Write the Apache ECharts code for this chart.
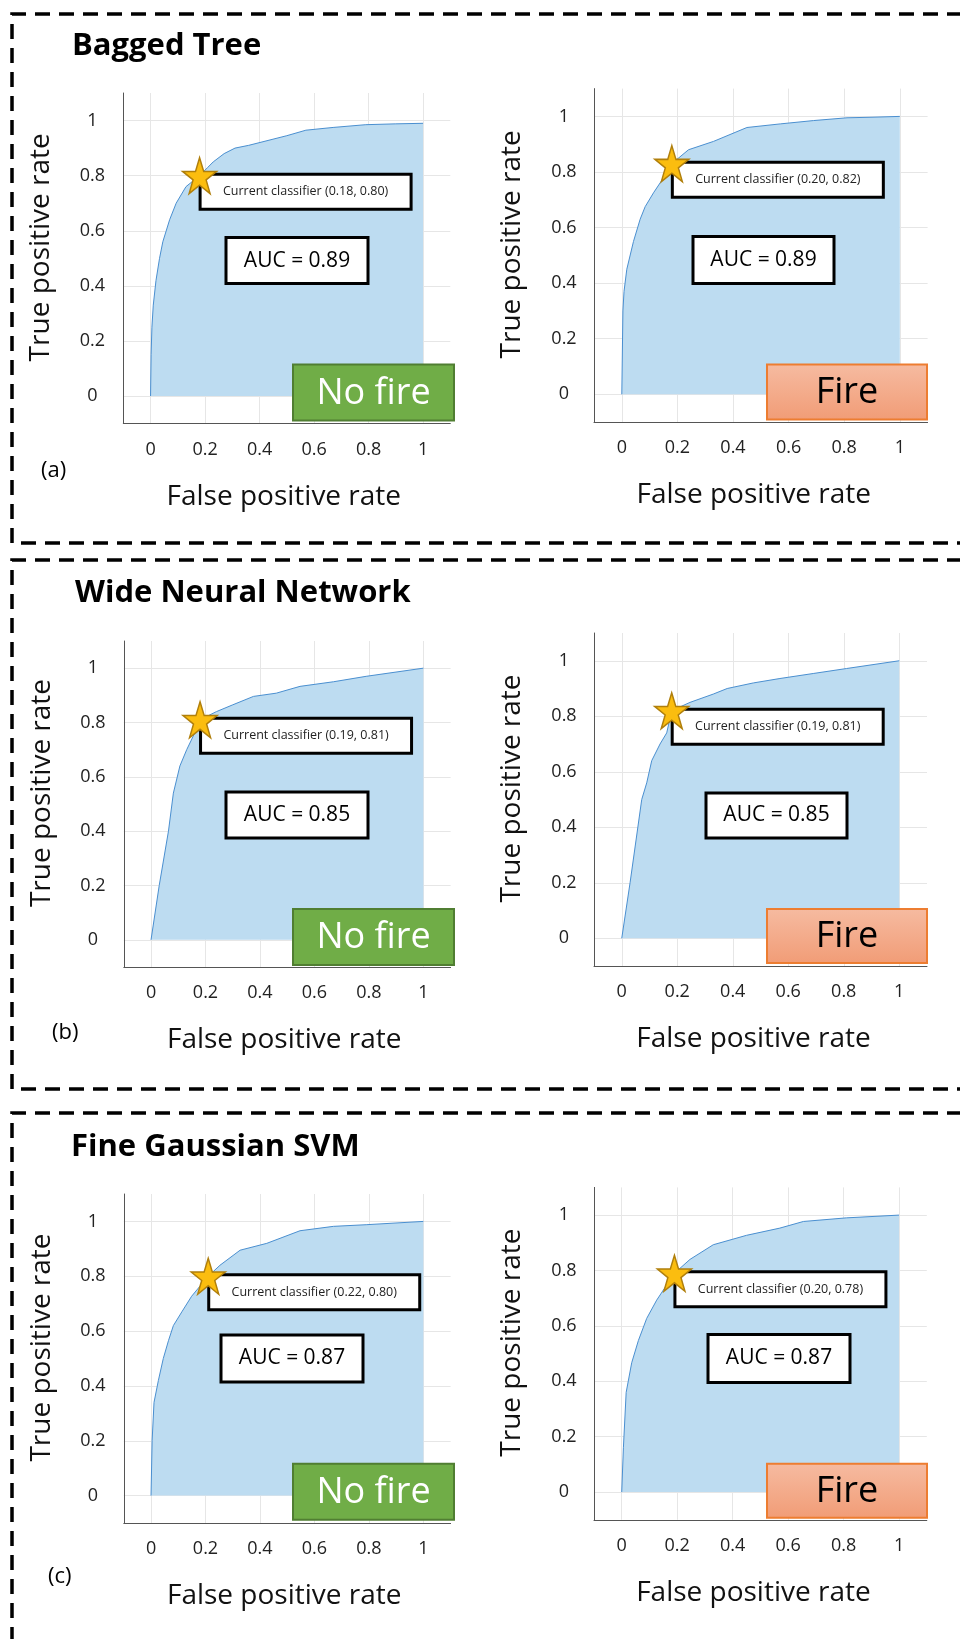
<!DOCTYPE html>
<html>
<head>
<meta charset="utf-8">
<script src="https://cdn.jsdelivr.net/npm/echarts@6/dist/echarts.min.js"></script>
<style>
html,body{margin:0;padding:0;background:#ffffff;}
#chart{width:960px;height:1639px;}
</style>
</head>
<body>
<div id="chart"></div>
<script>
// ---------------- DATA ----------------
const modelNames = ['Bagged Tree', 'Wide Neural Network', 'Fine Gaussian SVM'];
const panelTags = ['(a)', '(b)', '(c)'];
const classNames = ['No fire', 'Fire'];
const tickValues = [0, 0.2, 0.4, 0.6, 0.8, 1];
const tickLabels = ['0', '0.2', '0.4', '0.6', '0.8', '1'];
const xAxisTitle = 'False positive rate';
const yAxisTitle = 'True positive rate';

// Bagged Tree - No fire
const fprBaggedNoFire = [0, 0.002, 0.005, 0.01, 0.02, 0.033, 0.045, 0.07, 0.094, 0.13, 0.155, 0.18, 0.21, 0.23, 0.27, 0.31, 0.36, 0.42, 0.50, 0.57, 0.67, 0.79, 0.90, 1.0];
const tprBaggedNoFire = [0, 0.15, 0.25, 0.33, 0.42, 0.50, 0.56, 0.64, 0.70, 0.76, 0.78, 0.80, 0.83, 0.85, 0.88, 0.90, 0.91, 0.925, 0.945, 0.965, 0.975, 0.985, 0.988, 0.99];
// Bagged Tree - Fire
const fprBaggedFire = [0, 0.004, 0.008, 0.018, 0.042, 0.066, 0.084, 0.114, 0.144, 0.18, 0.24, 0.33, 0.45, 0.57, 0.69, 0.81, 0.90, 1.0];
const tprBaggedFire = [0, 0.30, 0.37, 0.45, 0.55, 0.63, 0.675, 0.725, 0.77, 0.83, 0.88, 0.91, 0.96, 0.973, 0.985, 0.995, 0.997, 1.0];
// Wide Neural Network - No fire
const fprWideNoFire = [0, 0.03, 0.064, 0.082, 0.106, 0.131, 0.155, 0.18, 0.24, 0.30, 0.376, 0.46, 0.547, 0.67, 0.79, 1.0];
const tprWideNoFire = [0, 0.20, 0.40, 0.54, 0.64, 0.70, 0.75, 0.81, 0.84, 0.865, 0.896, 0.908, 0.933, 0.95, 0.97, 1.0];
// Wide Neural Network - Fire
const fprWideFire = [0, 0.03, 0.072, 0.09, 0.108, 0.138, 0.162, 0.18, 0.246, 0.33, 0.38, 0.474, 0.57, 0.69, 0.81, 1.0];
const tprWideFire = [0, 0.20, 0.50, 0.56, 0.64, 0.70, 0.74, 0.82, 0.85, 0.88, 0.90, 0.92, 0.936, 0.954, 0.972, 1.0];
// Fine Gaussian SVM - No fire
const fprSvmNoFire = [0, 0.004, 0.011, 0.027, 0.045, 0.064, 0.082, 0.113, 0.149, 0.21, 0.253, 0.327, 0.425, 0.547, 0.67, 0.79, 1.0];
const tprSvmNoFire = [0, 0.20, 0.34, 0.42, 0.50, 0.565, 0.62, 0.67, 0.727, 0.80, 0.84, 0.895, 0.92, 0.966, 0.982, 0.988, 1.0];
// Fine Gaussian SVM - Fire
const fprSvmFire = [0, 0.006, 0.016, 0.036, 0.06, 0.09, 0.126, 0.19, 0.246, 0.33, 0.45, 0.57, 0.655, 0.81, 1.0];
const tprSvmFire = [0, 0.16, 0.36, 0.467, 0.547, 0.627, 0.693, 0.79, 0.84, 0.893, 0.927, 0.953, 0.977, 0.99, 1.0];

// Current classifier operating points (as labelled) and where the star is drawn
const classifierLabelPoints = [[0.18, 0.80], [0.20, 0.82], [0.19, 0.81], [0.19, 0.81], [0.22, 0.80], [0.20, 0.78]];
const starPoints = [[0.18, 0.80], [0.18, 0.83], [0.18, 0.81], [0.18, 0.82], [0.21, 0.80], [0.19, 0.79]];
const aucValues = [0.89, 0.89, 0.85, 0.85, 0.87, 0.87];

const fprSets = [fprBaggedNoFire, fprBaggedFire, fprWideNoFire, fprWideFire, fprSvmNoFire, fprSvmFire];
const tprSets = [tprBaggedNoFire, tprBaggedFire, tprWideNoFire, tprWideFire, tprSvmNoFire, tprSvmFire];

// ---------------- LAYOUT (pixels) ----------------
const gridBoxes = [
  {left: 123.3, top: 93,     width: 327,   height: 330.6},
  {left: 594,   top: 88.6,   width: 333.6, height: 333.5},
  {left: 123.8, top: 641,    width: 326.8, height: 326},
  {left: 594,   top: 633,    width: 333,   height: 333},
  {left: 123.8, top: 1194,   width: 326.8, height: 329},
  {left: 594,   top: 1187.4, width: 332.8, height: 332.4}
];
const aucBoxes = [[226, 237.6, 142, 46], [693, 236.6, 141, 47], [226, 792, 142, 46], [706, 793, 141, 45], [221, 1335, 142, 47], [708, 1334.4, 142, 48]];
const classBoxes = [[293, 364.6, 161, 56], [767, 364.6, 160, 55], [293, 909, 161, 56], [767, 909, 160, 54], [293, 1463.7, 161, 56], [767, 1463.7, 160, 54]];
const titlePos = [[72, 46.5], [75, 593], [71, 1147]];
const tagPos = [[41, 471], [52, 1033], [48, 1577]];
const borderBands = [[14, 543], [560, 1089], [1113, 1700]];

const FONT = 'Open Sans';
const TOPZ = 100;
const starPath = 'path://M50,0 L61.8,35.1 L98.9,35.1 L68.8,56.8 L80.2,91.9 L50,70.2 L19.8,91.9 L31.2,56.8 L1.1,35.1 L38.2,35.1 Z';

function tickFormatter(v) {
  const i = tickValues.findIndex(t => Math.abs(t - v) < 1e-6);
  return i >= 0 ? tickLabels[i] : '';
}
function fmt2(v) { return v.toFixed(2); }

const grids = [], xAxes = [], yAxes = [], series = [], graphics = [];

gridBoxes.forEach((g, i) => {
  const isRight = i % 2 === 1;
  grids.push(Object.assign({containLabel: false}, g));
  const commonAxis = {
    gridIndex: i, type: 'value', min: -0.1, max: 1.1, interval: 0.1,
    axisLine: {show: true, onZero: false, lineStyle: {color: '#555', width: 1}},
    axisTick: {show: false},
    splitLine: {show: true, showMinLine: true, showMaxLine: true, lineStyle: {color: ['rgba(0,0,0,0)', '#e6e6e6'], width: 1}},
    nameLocation: 'middle'
  };
  xAxes.push(Object.assign({}, commonAxis, {
    name: xAxisTitle, nameGap: 59,
    nameTextStyle: {fontSize: 28, fontFamily: FONT, color: '#111', padding: [0, isRight ? 14 : 6, 0, 0]},
    axisLabel: {formatter: tickFormatter, margin: 17, fontSize: 18, fontFamily: FONT, color: '#222'}
  }));
  yAxes.push(Object.assign({}, commonAxis, {
    name: yAxisTitle, nameGap: 68,
    nameTextStyle: {fontSize: 28, fontFamily: FONT, color: '#111', padding: [0, 0, 0, 22]},
    axisLabel: {formatter: tickFormatter, margin: isRight ? 30 : 31, align: 'center', fontSize: 18, fontFamily: FONT, color: '#222'}
  }));

  const pts = fprSets[i].map((x, k) => [x, tprSets[i][k]]);
  series.push({
    type: 'line', xAxisIndex: i, yAxisIndex: i, data: pts, showSymbol: false, silent: true,
    lineStyle: {color: '#4a8fd0', width: 1}, areaStyle: {color: '#bddcf1', opacity: 1}, z: 2
  });
  const lp = classifierLabelPoints[i];
  const labelText = 'Current classifier (' + fmt2(lp[0]) + ', ' + fmt2(lp[1]) + ')';
  series.push({
    type: 'scatter', xAxisIndex: i, yAxisIndex: i, data: [starPoints[i]], silent: true,
    symbol: 'rect', symbolSize: [34, 36], itemStyle: {color: 'rgba(0,0,0,0)', opacity: 1}, z: 4,
    label: {
      show: true, position: [17 + 1 + 105, 18], align: 'center', verticalAlign: 'top',
      width: 208, height: 32, lineHeight: 32, padding: 0,
      backgroundColor: '#ffffff', borderColor: '#000000', borderWidth: 3,
      fontSize: 12.5, fontFamily: FONT, color: '#222', formatter: () => labelText
    }
  });
  series.push({
    type: 'scatter', xAxisIndex: i, yAxisIndex: i, data: [starPoints[i]], silent: true,
    symbol: starPath, symbolSize: [34, 36], z: 6,
    itemStyle: {color: '#fbbd0f', borderColor: '#b07f0c', borderWidth: 1.5, opacity: 1}
  });

  // AUC box
  const a = aucBoxes[i];
  graphics.push({type: 'rect', z: TOPZ, shape: {x: a[0], y: a[1], width: a[2], height: a[3]},
    style: {fill: '#fff', stroke: '#000', lineWidth: 3}});
  graphics.push({type: 'text', z: TOPZ + 1, style: {text: 'AUC = ' + fmt2(aucValues[i]), x: a[0] + a[2] / 2, y: a[1] + a[3] / 2,
    align: 'center', verticalAlign: 'middle', textAlign: 'center', textVerticalAlign: 'middle',
    font: '21px "' + FONT + '"', fill: '#000'}});
  // class box
  const c = classBoxes[i];
  const fireBox = isRight;
  graphics.push({type: 'rect', z: TOPZ, shape: {x: c[0], y: c[1], width: c[2], height: c[3]},
    style: fireBox ? {
      fill: {type: 'linear', x: 0, y: 0, x2: 0, y2: 1, colorStops: [{offset: 0, color: '#f6bba1'}, {offset: 1, color: '#f19c76'}]},
      stroke: '#ed7d31', lineWidth: 2
    } : {fill: '#70ad47', stroke: '#507e32', lineWidth: 2}});
  graphics.push({type: 'text', z: TOPZ + 1, style: {text: classNames[i % 2], x: c[0] + c[2] / 2, y: c[1] + c[3] / 2 + 1,
    align: 'center', verticalAlign: 'middle', textAlign: 'center', textVerticalAlign: 'middle',
    font: '36px "' + FONT + '"', fill: fireBox ? '#000' : '#fff'}});
});

modelNames.forEach((name, j) => {
  graphics.push({type: 'text', z: TOPZ, style: {text: name, x: titlePos[j][0], y: titlePos[j][1],
    align: 'left', verticalAlign: 'middle', textAlign: 'left', textVerticalAlign: 'middle',
    font: 'bold 31px "' + FONT + '"', fill: '#000'}});
  graphics.push({type: 'text', z: TOPZ, style: {text: panelTags[j], x: tagPos[j][0], y: tagPos[j][1],
    align: 'left', verticalAlign: 'middle', textAlign: 'left', textVerticalAlign: 'middle',
    font: '22px "' + FONT + '"', fill: '#000'}});
  const b = borderBands[j];
  graphics.push({type: 'polyline', z: TOPZ, shape: {points: [[962, b[0]], [12, b[0]], [12, b[1]], [962, b[1]]]},
    style: {stroke: '#000', lineWidth: 3.5, lineDash: [15, 9], fill: null}});
});

const chart = echarts.init(document.getElementById('chart'), null, {renderer: 'canvas'});
chart.setOption({
  animation: false,
  backgroundColor: '#ffffff',
  grid: grids,
  xAxis: xAxes,
  yAxis: yAxes,
  series: series,
  graphic: graphics
});
</script>
</body>
</html>
